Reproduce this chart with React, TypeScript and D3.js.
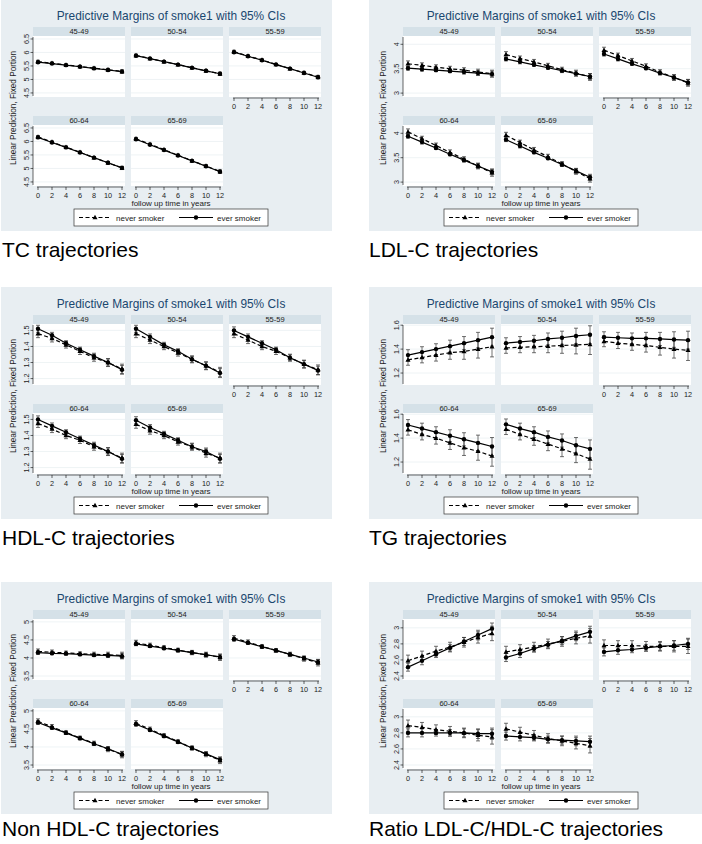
import React from 'react';
import * as d3 from 'd3';

const ageGroups = ['45-49', '50-54', '55-59', '60-64', '65-69'];
const times = [0, 2, 4, 6, 8, 10, 12];
const xTicks = [0, 2, 4, 6, 8, 10, 12];

// TC
const tcTicks = [4.5, 5, 5.5, 6, 6.5];
const tcDomain = [4.35, 6.61];
const tcNever = [
  [5.66, 5.6, 5.54, 5.48, 5.42, 5.36, 5.3],
  [5.89, 5.78, 5.66, 5.55, 5.44, 5.32, 5.21],
  [6.03, 5.87, 5.72, 5.56, 5.4, 5.25, 5.09],
  [6.17, 5.98, 5.79, 5.6, 5.4, 5.21, 5.02],
  [6.1, 5.9, 5.7, 5.49, 5.29, 5.09, 4.89],
];
const tcEver = [
  [5.64, 5.59, 5.53, 5.47, 5.41, 5.35, 5.29],
  [5.88, 5.77, 5.66, 5.55, 5.43, 5.32, 5.21],
  [6.01, 5.86, 5.71, 5.55, 5.4, 5.24, 5.08],
  [6.15, 5.96, 5.78, 5.59, 5.4, 5.21, 5.02],
  [6.08, 5.88, 5.68, 5.48, 5.28, 5.08, 4.88],
];
const tcCiNever = [0.05, 0.04, 0.04, 0.04, 0.04, 0.05, 0.06];
const tcCiEver = [0.04, 0.03, 0.03, 0.03, 0.03, 0.04, 0.05];

// LDL-C
const ldlTicks = [3, 3.5, 4];
const ldlDomain = [2.92, 4.17];
const ldlNever = [
  [3.6, 3.57, 3.53, 3.5, 3.47, 3.43, 3.4],
  [3.79, 3.71, 3.64, 3.56, 3.48, 3.41, 3.33],
  [3.88, 3.77, 3.66, 3.55, 3.43, 3.32, 3.21],
  [4.03, 3.89, 3.75, 3.61, 3.47, 3.33, 3.19],
  [3.96, 3.81, 3.66, 3.52, 3.37, 3.22, 3.07],
];
const ldlEver = [
  [3.51, 3.49, 3.47, 3.45, 3.43, 3.41, 3.39],
  [3.7, 3.64, 3.58, 3.52, 3.46, 3.4, 3.34],
  [3.8, 3.7, 3.6, 3.51, 3.41, 3.32, 3.22],
  [3.94, 3.82, 3.7, 3.57, 3.45, 3.33, 3.21],
  [3.87, 3.74, 3.61, 3.49, 3.36, 3.23, 3.1],
];
const ldlCiNever = [0.06, 0.05, 0.05, 0.05, 0.05, 0.06, 0.07];
const ldlCiEver = [0.04, 0.04, 0.03, 0.03, 0.04, 0.05, 0.06];

// HDL-C
const hdlTicks = [1.2, 1.3, 1.4, 1.5];
const hdlDomain = [1.16, 1.54];
const hdlNever = [
  [1.48, 1.45, 1.41, 1.37, 1.33, 1.3, 1.26],
  [1.48, 1.44, 1.4, 1.36, 1.32, 1.28, 1.24],
  [1.48, 1.44, 1.4, 1.37, 1.33, 1.29, 1.255],
  [1.475, 1.44, 1.4, 1.37, 1.33, 1.3, 1.26],
  [1.47, 1.43, 1.4, 1.36, 1.33, 1.29, 1.26],
];
const hdlEver = [
  [1.51, 1.47, 1.42, 1.38, 1.34, 1.3, 1.255],
  [1.51, 1.46, 1.41, 1.37, 1.32, 1.28, 1.235],
  [1.5, 1.46, 1.42, 1.38, 1.33, 1.29, 1.25],
  [1.5, 1.46, 1.42, 1.38, 1.34, 1.3, 1.255],
  [1.495, 1.45, 1.41, 1.37, 1.33, 1.3, 1.255],
];
const hdlCiNever = [0.025, 0.022, 0.02, 0.02, 0.022, 0.025, 0.03];
const hdlCiEver = [0.022, 0.018, 0.016, 0.016, 0.018, 0.022, 0.027];

// TG
const tgTicks = [1.2, 1.4, 1.6];
const tgDomain = [1.1, 1.61];
const tgNever = [
  [1.31, 1.33, 1.35, 1.37, 1.38, 1.4, 1.42],
  [1.41, 1.415, 1.42, 1.425, 1.43, 1.435, 1.44],
  [1.465, 1.45, 1.44, 1.43, 1.415, 1.4, 1.39],
  [1.47, 1.43, 1.4, 1.36, 1.32, 1.29, 1.25],
  [1.475, 1.43, 1.39, 1.35, 1.31, 1.27, 1.225],
];
const tgEver = [
  [1.35, 1.375, 1.4, 1.425, 1.45, 1.475, 1.5],
  [1.45, 1.46, 1.47, 1.485, 1.495, 1.51, 1.52],
  [1.5, 1.495, 1.49, 1.49, 1.485, 1.48, 1.475],
  [1.51, 1.48, 1.45, 1.42, 1.39, 1.36, 1.33],
  [1.515, 1.48, 1.45, 1.41, 1.38, 1.34, 1.31],
];
const tgCiNever = [0.045, 0.045, 0.05, 0.055, 0.065, 0.075, 0.085];
const tgCiEver = [0.045, 0.045, 0.045, 0.05, 0.055, 0.065, 0.075];

// Non HDL-C
const nonTicks = [3.5, 4, 4.5, 5];
const nonDomain = [3.39, 5.08];
const nonNever = [
  [4.18, 4.16, 4.14, 4.12, 4.1, 4.09, 4.07],
  [4.42, 4.35, 4.29, 4.22, 4.15, 4.09, 4.02],
  [4.55, 4.44, 4.32, 4.21, 4.1, 3.98, 3.87],
  [4.71, 4.56, 4.4, 4.25, 4.1, 3.94, 3.79],
  [4.66, 4.49, 4.32, 4.15, 3.97, 3.8, 3.63],
];
const nonEver = [
  [4.15, 4.13, 4.12, 4.1, 4.08, 4.07, 4.05],
  [4.39, 4.33, 4.27, 4.21, 4.15, 4.09, 4.03],
  [4.52, 4.42, 4.31, 4.21, 4.1, 4.0, 3.89],
  [4.68, 4.53, 4.39, 4.24, 4.09, 3.95, 3.8],
  [4.63, 4.47, 4.3, 4.14, 3.97, 3.81, 3.65],
];
const nonCiNever = [0.07, 0.06, 0.05, 0.05, 0.06, 0.07, 0.09];
const nonCiEver = [0.05, 0.04, 0.04, 0.04, 0.04, 0.05, 0.07];

// Ratio LDL-C/HDL-C
const ratioTicks = [2.4, 2.6, 2.8, 3];
const ratioDomain = [2.35, 3.11];
const ratioNever = [
  [2.59, 2.65, 2.71, 2.76, 2.82, 2.88, 2.93],
  [2.7, 2.73, 2.76, 2.8, 2.83, 2.87, 2.9],
  [2.78, 2.78, 2.78, 2.77, 2.77, 2.77, 2.77],
  [2.89, 2.87, 2.84, 2.82, 2.8, 2.77, 2.75],
  [2.85, 2.81, 2.77, 2.73, 2.7, 2.67, 2.64],
];
const ratioEver = [
  [2.51, 2.59, 2.67, 2.75, 2.83, 2.91, 2.99],
  [2.63, 2.68, 2.74, 2.79, 2.84, 2.9, 2.95],
  [2.7, 2.72, 2.73, 2.75, 2.77, 2.78, 2.8],
  [2.8, 2.8, 2.8, 2.8, 2.8, 2.79, 2.79],
  [2.76, 2.75, 2.74, 2.72, 2.71, 2.7, 2.69],
];
const ratioCiNever = [0.07, 0.06, 0.06, 0.06, 0.06, 0.07, 0.09];
const ratioCiEver = [0.05, 0.05, 0.04, 0.04, 0.05, 0.06, 0.07];

const captions = [
  'TC trajectories',
  'LDL-C trajectories',
  'HDL-C trajectories',
  'TG trajectories',
  'Non HDL-C trajectories',
  'Ratio LDL-C/HDL-C trajectories',
];

const charts = [
  { never: tcNever, ever: tcEver, ciN: tcCiNever, ciE: tcCiEver, ticks: tcTicks, domain: tcDomain },
  { never: ldlNever, ever: ldlEver, ciN: ldlCiNever, ciE: ldlCiEver, ticks: ldlTicks, domain: ldlDomain },
  { never: hdlNever, ever: hdlEver, ciN: hdlCiNever, ciE: hdlCiEver, ticks: hdlTicks, domain: hdlDomain },
  { never: tgNever, ever: tgEver, ciN: tgCiNever, ciE: tgCiEver, ticks: tgTicks, domain: tgDomain },
  { never: nonNever, ever: nonEver, ciN: nonCiNever, ciE: nonCiEver, ticks: nonTicks, domain: nonDomain },
  { never: ratioNever, ever: ratioEver, ciN: ratioCiNever, ciE: ratioCiEver, ticks: ratioTicks, domain: ratioDomain },
];

const FONT = '"Liberation Sans", Arial, Helvetica, sans-serif';
const BG = '#e8eef2';
const STRIP = '#d5e1e8';
const TITLE = '#1a476f';

const panelX = [0, 370];
const panelY = [0, 288, 583];
const captionY = [257, 545, 836];
const colX = [33, 131, 229];
const stripTops = [27, 116];
const COLW = 92;
const STRIPH = 9;
const PLOTH = 61;

function Triangle({ x, y, s }: { x: number; y: number; s: number }) {
  const h = s * 0.9;
  return <path d={`M${x},${y - h * 0.6} L${x + s / 2},${y + h * 0.4} L${x - s / 2},${y + h * 0.4} Z`} fill="#000" />;
}

function SubPlot({ chart, gi, ox, oy }: any) {
  const col = gi < 3 ? gi : gi - 3;
  const row = gi < 3 ? 0 : 1;
  const x0 = ox + colX[col];
  const sTop = oy + stripTops[row];
  const pTop = sTop + STRIPH;
  const pBot = pTop + PLOTH;
  const xs = d3.scaleLinear().domain([0, 12]).range([x0 + 5, x0 + COLW - 3]);
  const ys = d3.scaleLinear().domain(chart.domain).range([pBot, pTop]);
  const line = d3.line<number>().x((_, i) => xs(times[i])).y((d) => ys(d));
  const showX = row === 1 || col === 2;
  const showY = col === 0;
  const nev: number[] = chart.never[gi];
  const evr: number[] = chart.ever[gi];
  const cap = 2;
  return (
    <g>
      <rect x={x0} y={sTop} width={COLW} height={STRIPH} fill={STRIP} />
      <text x={x0 + COLW / 2} y={sTop + 7.2} fontSize={7.5} textAnchor="middle" fill="#222">{ageGroups[gi]}</text>
      <rect x={x0} y={pTop} width={COLW} height={PLOTH} fill="#fff" />
      {chart.ticks.map((t: number) => (
        <line key={'g' + t} x1={x0} x2={x0 + COLW} y1={ys(t)} y2={ys(t)} stroke="#eaf0f2" strokeWidth={0.8} />
      ))}
      {showY && (
        <g>
          <line x1={x0} x2={x0} y1={pTop + 1} y2={pBot - 1} stroke="#000" strokeWidth={0.6} />
          {chart.ticks.map((t: number) => (
            <g key={'y' + t}>
              <line x1={x0 - 2.5} x2={x0} y1={ys(t)} y2={ys(t)} stroke="#000" strokeWidth={0.6} />
              <text transform={`translate(${x0 - 4},${ys(t)}) rotate(-90)`} fontSize={7.2} textAnchor="middle" fill="#222">{t}</text>
            </g>
          ))}
        </g>
      )}
      {showX && (
        <g>
          <line x1={xs(0) - 1} x2={xs(12) + 1} y1={pBot + 1} y2={pBot + 1} stroke="#000" strokeWidth={0.6} />
          {xTicks.map((t) => (
            <g key={'x' + t}>
              <line x1={xs(t)} x2={xs(t)} y1={pBot + 1} y2={pBot + 4} stroke="#000" strokeWidth={0.6} />
              <text x={xs(t)} y={pBot + 11.5} fontSize={7.3} textAnchor="middle" fill="#222">{t}</text>
            </g>
          ))}
        </g>
      )}
      {times.map((t, i) => (
        <g key={'ci' + t}>
          <line x1={xs(t)} x2={xs(t)} y1={ys(nev[i] - chart.ciN[i])} y2={ys(nev[i] + chart.ciN[i])} stroke="#333" strokeWidth={0.7} />
          <line x1={xs(t) - cap} x2={xs(t) + cap} y1={ys(nev[i] - chart.ciN[i])} y2={ys(nev[i] - chart.ciN[i])} stroke="#333" strokeWidth={0.7} />
          <line x1={xs(t) - cap} x2={xs(t) + cap} y1={ys(nev[i] + chart.ciN[i])} y2={ys(nev[i] + chart.ciN[i])} stroke="#333" strokeWidth={0.7} />
          <line x1={xs(t)} x2={xs(t)} y1={ys(evr[i] - chart.ciE[i])} y2={ys(evr[i] + chart.ciE[i])} stroke="#333" strokeWidth={0.7} />
          <line x1={xs(t) - cap} x2={xs(t) + cap} y1={ys(evr[i] - chart.ciE[i])} y2={ys(evr[i] - chart.ciE[i])} stroke="#333" strokeWidth={0.7} />
          <line x1={xs(t) - cap} x2={xs(t) + cap} y1={ys(evr[i] + chart.ciE[i])} y2={ys(evr[i] + chart.ciE[i])} stroke="#333" strokeWidth={0.7} />
        </g>
      ))}
      <path d={line(nev) || ''} fill="none" stroke="#000" strokeWidth={1.2} strokeDasharray="4,2.5" />
      <path d={line(evr) || ''} fill="none" stroke="#000" strokeWidth={1.2} />
      {times.map((t, i) => (
        <g key={'m' + t}>
          <Triangle x={xs(t)} y={ys(nev[i])} s={5} />
          <circle cx={xs(t)} cy={ys(evr[i])} r={2.2} fill="#000" />
        </g>
      ))}
    </g>
  );
}

function Panel({ chart, ci }: any) {
  const ox = panelX[ci % 2];
  const oy = panelY[Math.floor(ci / 2)];
  const bgX = ox === 0 ? 1 : ox - 1;
  const bgW = ox === 0 ? 331 : 702 - bgX;
  const cx = ox + 171;
  const legTop = oy + 209;
  const legMid = legTop + 8.5;
  return (
    <g>
      <rect x={bgX} y={Math.max(0, oy - 1)} width={bgW} height={oy === 0 ? 231 : 232} fill={BG} />
      <text x={cx} y={oy + 20} fontSize={11.9} textAnchor="middle" fill={TITLE}>Predictive Margins of smoke1 with 95% CIs</text>
      {ageGroups.map((_, gi) => (
        <SubPlot key={gi} chart={chart} gi={gi} ox={ox} oy={oy} />
      ))}
      <text transform={`translate(${ox + 16},${oy + 108}) rotate(-90)`} fontSize={8.2} textAnchor="middle" fill="#222">Linear Prediction, Fixed Portion</text>
      <text x={cx} y={oy + 206} fontSize={8} textAnchor="middle" fill="#222">follow up time in years</text>
      <rect x={ox + 74} y={legTop} width={194} height={17} fill="#fff" stroke="#333" strokeWidth={0.7} />
      <line x1={ox + 79} x2={ox + 111} y1={legMid} y2={legMid} stroke="#000" strokeWidth={1.2} strokeDasharray="4,2.5" />
      <Triangle x={ox + 95} y={legMid} s={5} />
      <text x={ox + 116} y={legMid + 3} fontSize={8} fill="#222">never smoker</text>
      <line x1={ox + 179} x2={ox + 213} y1={legMid} y2={legMid} stroke="#000" strokeWidth={1.2} />
      <circle cx={ox + 196} cy={legMid} r={2.2} fill="#000" />
      <text x={ox + 217} y={legMid + 3} fontSize={8} fill="#222">ever smoker</text>
      <text x={ox === 0 ? 2 : ox - 1} y={captionY[Math.floor(ci / 2)]} fontSize={21} fill="#000">{captions[ci]}</text>
    </g>
  );
}

export default function App() {
  return (
    <svg width={702} height={844} style={{ position: 'absolute', left: 0, top: 0, fontFamily: FONT, background: '#fff' }}>
      <rect x={0} y={0} width={702} height={844} fill="#fff" />
      {charts.map((c, ci) => (
        <Panel key={ci} chart={c} ci={ci} />
      ))}
    </svg>
  );
}
